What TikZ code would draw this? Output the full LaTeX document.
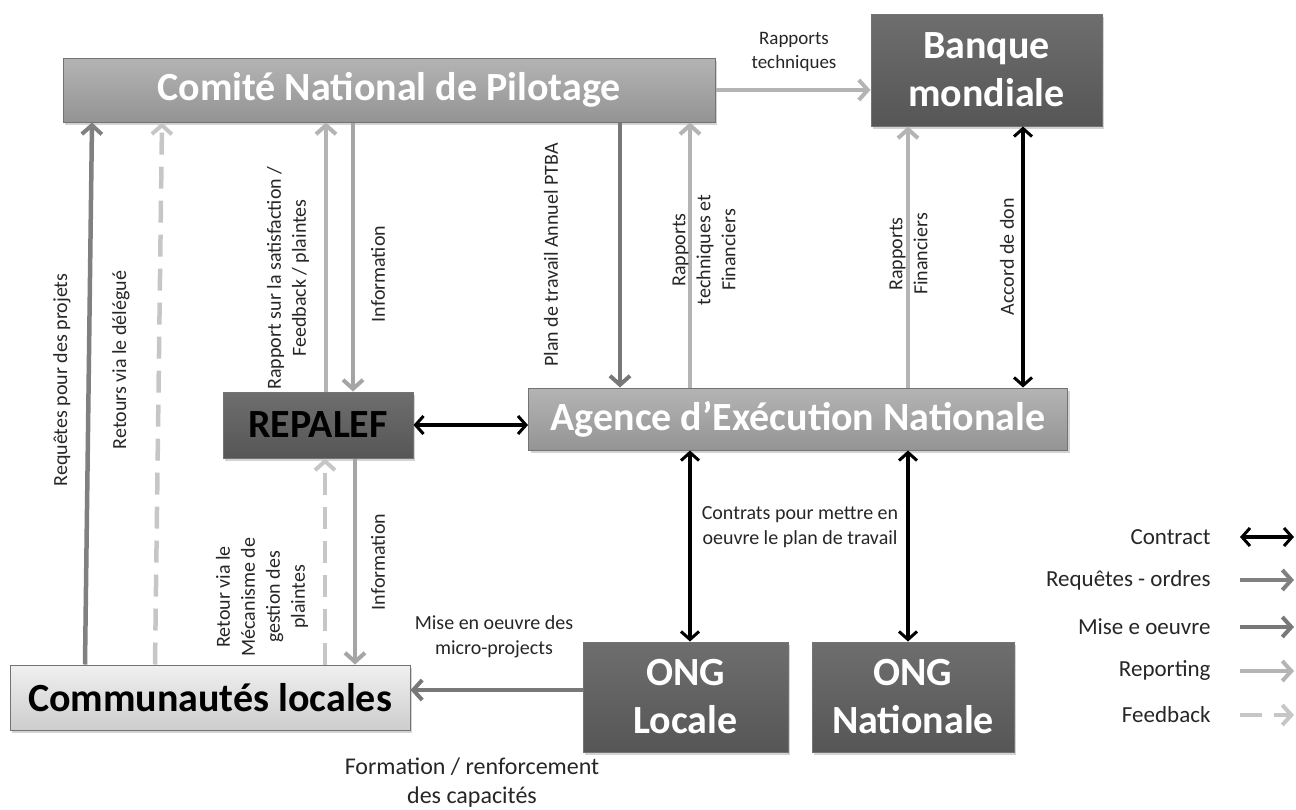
\documentclass[tikz,border=0pt]{standalone}
\usepackage{fontspec}
\setmainfont{Carlito}
\usetikzlibrary{arrows.meta,shadows}

\definecolor{lightA}{RGB}{180,180,180}
\definecolor{lightB}{RGB}{148,148,148}
\definecolor{darkA}{RGB}{110,110,110}
\definecolor{darkB}{RGB}{86,86,86}
\definecolor{paleA}{RGB}{240,240,240}
\definecolor{paleB}{RGB}{205,205,205}
\definecolor{reqgray}{RGB}{128,128,128}
\definecolor{misegray}{RGB}{120,120,120}
\definecolor{repgray}{RGB}{180,180,180}
\definecolor{infogray}{RGB}{165,165,165}
\definecolor{fbgray}{RGB}{198,198,198}

\begin{document}
\begin{tikzpicture}[x=1pt,y=-1pt]
  \tikzstyle{b} = [draw=black!55, line width=1pt, inner sep=0pt, align=center,
    font=\fontsize{40}{48}\selectfont\bfseries,
    drop shadow={shadow xshift=2pt, shadow yshift=-3pt, opacity=0.35}]
  \tikzstyle{bl} = [b, top color=lightA, bottom color=lightB, text=white]
  \tikzstyle{bd} = [b, top color=darkA, bottom color=darkB, text=white]
  \tikzstyle{bdk} = [b, top color=darkA, bottom color=darkB, text=black]
  \tikzstyle{bp} = [b, top color=paleA, bottom color=paleB, text=black]
  \tikzstyle{tip} = [-{Straight Barb[length=9pt,width=20pt,line width=4pt]}]
  \tikzstyle{req} = [line width=4.5pt, draw=reqgray, tip]
  \tikzstyle{mise} = [line width=4.5pt, draw=misegray, tip]
  \tikzstyle{rep} = [line width=4.5pt, draw=repgray, tip]
  \tikzstyle{info} = [line width=4.5pt, draw=infogray, tip]
  \tikzstyle{fb} = [line width=4.5pt, draw=fbgray, tip, dash pattern=on 22pt off 12pt]
  \tikzstyle{ctr} = [line width=3.5pt, draw=black,
    {Straight Barb[length=8pt,width=18pt,line width=3pt]}-{Straight Barb[length=8pt,width=18pt,line width=3pt]}]
  \tikzstyle{lbl} = [font=\fontsize{20}{25}\selectfont, align=center, text=black!85]
  \tikzstyle{vl} = [lbl, rotate=90]

  \useasboundingbox (0,0) rectangle (1296,809);

  % boxes
  \node[bl, minimum width=652pt, minimum height=64pt](cnp) at (389,90){Comit\'e National de Pilotage};
  \node[bd, minimum width=231pt, minimum height=112pt](bm) at (986.5,70){Banque\\mondiale};
  \node[bdk, minimum width=190pt, minimum height=66pt](repalef) at (318,425){REPALEF};
  \node[bl, minimum width=539pt, minimum height=62pt](aen) at (798,419){Agence d'Ex\'ecution Nationale};
  \node[bp, minimum width=400pt, minimum height=65pt](com) at (210,697.5){Communaut\'es locales};
  \node[bd, minimum width=205pt, minimum height=110pt](ongl) at (685.5,697){ONG\\Locale};
  \node[bd, minimum width=202pt, minimum height=110pt](ongn) at (913,697){ONG\\Nationale};

  % connectors
  \draw[req](com.north -| 85,0)--(cnp.south -| 92,0);
  \draw[fb](com.north -| 155,0)--(cnp.south -| 162,0);
  \draw[rep](repalef.north -| 326,0)--(cnp.south -| 326,0);
  \draw[info](cnp.south -| 353,0)--(repalef.north -| 353,0);
  \draw[mise](cnp.south -| 620,0)--(aen.north -| 620,0);
  \draw[rep](aen.north -| 690,0)--(cnp.south -| 690,0);
  \draw[rep](aen.north -| 908,0)--(bm.south -| 908,0);
  \draw[ctr](bm.south -| 1023,0)--(aen.north -| 1023,0);
  \draw[rep](cnp.east)--(bm.west |- cnp.east);
  \draw[ctr](repalef.east)--(aen.west |- repalef.east);
  \draw[info](repalef.south -| 355,0)--(com.north -| 355,0);
  \draw[fb](com.north -| 325,0)--(repalef.south -| 325,0);
  \draw[mise](ongl.west |- 0,690)--(com.east |- 0,690);
  \draw[ctr](aen.south -| 690,0)--(ongl.north -| 690,0);
  \draw[ctr](aen.south -| 908,0)--(ongn.north -| 908,0);

  % labels
  \node[lbl, font=\fontsize{19}{24}\selectfont](l1) at (794,52){Rapports\\techniques};
  \node[vl](l2) at (62,380){Requ\^etes pour des projets};
  \node[vl](l3) at (121,360){Retours via le d\'el\'egu\'e};
  \node[vl](l4) at (288,278){Rapport sur la satisfaction /\\Feedback / plaintes};
  \node[vl](l5) at (378,274){Information};
  \node[vl](l6) at (551,255){Plan de travail Annuel PTBA};
  \node[vl](l7) at (704,250){Rapports\\techniques et\\Financiers};
  \node[vl](l8) at (908.5,254){Rapports\\Financiers};
  \node[vl](l9) at (1007,257){Accord de don};
  \node[vl](l10) at (262,597){Retour via le\\M\'ecanisme de\\gestion des\\plaintes};
  \node[vl](l11) at (378,562){Information};
  \node[lbl](l12) at (800,527){Contrats pour mettre en\\oeuvre le plan de travail};
  \node[lbl](l13) at (494,637){Mise en oeuvre des\\micro-projects};
  \node[lbl, font=\fontsize{24}{29}\selectfont](l14) at (472,783){Formation / renforcement\\des capacit\'es};

  % legend
  \foreach \txt/\sty/\yy [count=\i] in {Contract/ctr/537, Requ\^etes - ordres/req/580,
      Mise e oeuvre/mise/627, Reporting/rep/671, Feedback/fb/715}{
    \node[lbl, font=\fontsize{23}{26}\selectfont, anchor=east](leg\i) at (1214,\yy){\txt};
    \coordinate(legend\i) at (1294,\yy);
    \draw[\sty](1240,\yy)--(legend\i);
  }
\end{tikzpicture}
\end{document}
